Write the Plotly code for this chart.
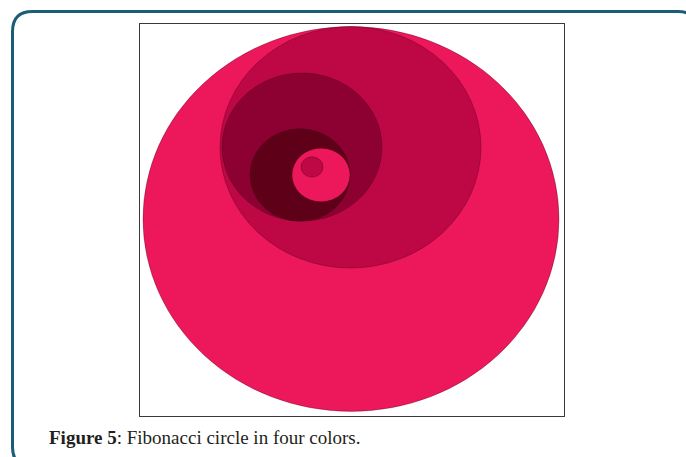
import plotly.graph_objects as go

# ---------------- data ----------------
# Fibonacci circle: six nested circles (isotropic units, origin = box top-left)
circle_labels = ["circle 1", "circle 2", "circle 3", "circle 4", "circle 5", "circle 6"]
circle_radius = [208, 130.5, 80, 50, 29, 11]
circle_cx = [211, 210.5, 162, 160, 181, 172]
circle_cy = [210.8, 133.3, 133.0, 163.2, 163.2, 154.6]
circle_colors = ["#ED175B", "#BE0846", "#8C0032", "#5F0019", "#ED175B", "#BE0846"]

caption_bold = "Figure 5"
caption_rest = ": Fibonacci circle in four colors."

# ---------------- layout geometry ----------------
W, H = 686, 457
BOX_L, BOX_R, BOX_T, BOX_B = 140, 564, 24, 416
X_SPAN = 424.0
Y_SPAN = 423.8  # vertical image squash ~0.925


def px(x):
    return x / W


def py(y):
    return 1 - y / H


fig = go.Figure()

# invisible trace so that the axes/scales exist
fig.add_trace(go.Scatter(x=circle_cx, y=circle_cy, mode="markers",
                         marker=dict(size=1, opacity=0), text=circle_labels,
                         hoverinfo="text", showlegend=False))

shapes = []
for r, cx, cy, c in zip(circle_radius, circle_cx, circle_cy, circle_colors):
    shapes.append(dict(type="circle", xref="x", yref="y",
                       x0=cx - r, x1=cx + r, y0=cy - r, y1=cy + r,
                       fillcolor=c, line=dict(color="rgba(50,0,15,0.3)", width=1),
                       layer="above"))

# rounded outer frame (teal)
fl, ft, fr, fb, rad = 12.5, 11.5, 698, 467, 20
path = (f"M {px(fl)},{py(ft + rad)} "
        f"Q {px(fl)},{py(ft)} {px(fl + rad)},{py(ft)} "
        f"L {px(fr - rad)},{py(ft)} "
        f"Q {px(fr)},{py(ft)} {px(fr)},{py(ft + rad)} "
        f"L {px(fr)},{py(fb - rad)} "
        f"Q {px(fr)},{py(fb)} {px(fr - rad)},{py(fb)} "
        f"L {px(fl + rad)},{py(fb)} "
        f"Q {px(fl)},{py(fb)} {px(fl)},{py(fb - rad)} Z")
shapes.append(dict(type="path", xref="paper", yref="paper", path=path,
                   line=dict(color="#1B5C76", width=3), fillcolor="rgba(0,0,0,0)",
                   layer="above"))

fig.update_layout(
    width=W, height=H,
    margin=dict(l=0, r=0, t=0, b=0),
    paper_bgcolor="white", plot_bgcolor="white",
    showlegend=False,
    shapes=shapes,
    xaxis=dict(domain=[px(BOX_L), px(BOX_R)], range=[0, X_SPAN],
               showgrid=False, zeroline=False, showticklabels=False, ticks="",
               showline=True, mirror=True, linecolor="#3a3a3a", linewidth=1),
    yaxis=dict(domain=[py(BOX_B), py(BOX_T)], range=[Y_SPAN, 0],
               showgrid=False, zeroline=False, showticklabels=False, ticks="",
               showline=True, mirror=True, linecolor="#3a3a3a", linewidth=1),
    annotations=[dict(xref="paper", yref="paper", x=px(47), y=py(437),
                      xanchor="left", yanchor="middle", showarrow=False,
                      text=f"<b>{caption_bold}</b>{caption_rest}",
                      font=dict(family="Liberation Serif", size=19, color="#231f20"))],
)

fig.write_html("out.html", config={"displayModeBar": False},
               post_script="document.body.style.margin='0';document.body.style.overflow='hidden';")
